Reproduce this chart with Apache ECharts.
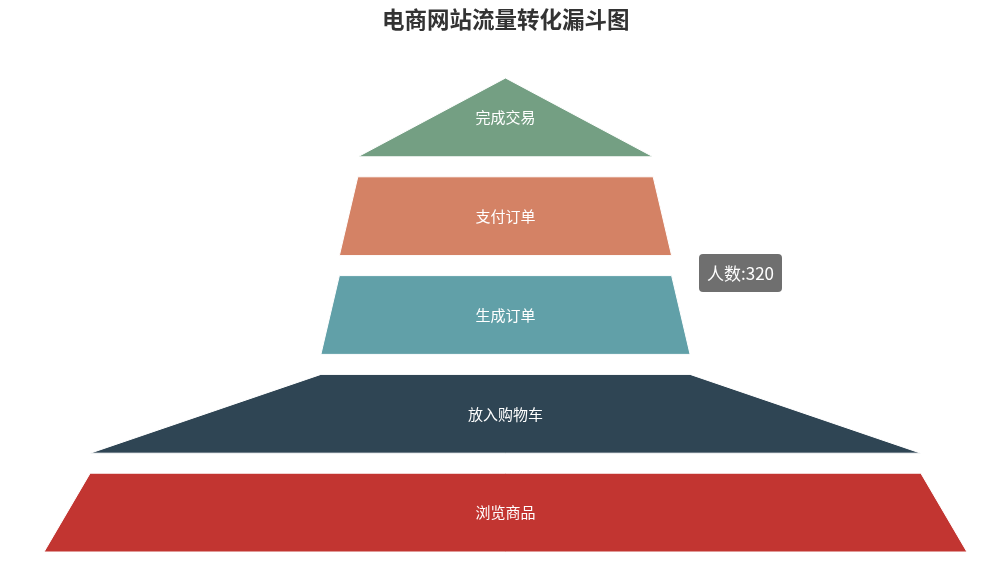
<!DOCTYPE html>
<html>
<head>
<meta charset="utf-8">
<script src="https://cdn.jsdelivr.net/npm/echarts@6/dist/echarts.min.js"></script>
<style>
html,body{margin:0;padding:0;background:#fff;}
#main{width:1003px;height:587px;}
</style>
</head>
<body>
<div id="main"></div>
<script>
const stages = ['浏览商品', '放入购物车', '生成订单', '支付订单', '完成交易'];
const visitors = [1000, 900, 400, 360, 320];
const palette = ['#c23531', '#2f4554', '#61a0a8', '#d48265', '#749f83'];
const titleText = '电商网站流量转化漏斗图';
const tipIndex = 4;

const chart = echarts.init(document.getElementById('main'), null, {renderer: 'canvas'});
const font = "'Microsoft YaHei', 'Noto Sans CJK SC', sans-serif";
chart.setOption({
  animation: false,
  color: palette,
  title: {
    text: titleText,
    left: 377,
    top: 3,
    textStyle: {fontSize: 22.5, fontWeight: 'bold', color: '#333', fontFamily: font}
  },
  tooltip: {
    trigger: 'item',
    formatter: '人数:{c}',
    alwaysShowContent: true,
    transitionDuration: 0,
    position: [699, 254],
    backgroundColor: 'rgba(50,50,50,0.7)',
    borderWidth: 0,
    padding: [6, 8],
    textStyle: {color: '#fff', fontSize: 17, fontFamily: font},
    extraCssText: 'border-radius:4px;box-shadow:none;'
  },
  series: [{
    type: 'funnel',
    sort: 'ascending',
    left: 44,
    top: 78,
    width: 923,
    height: 474,
    min: 0,
    max: 1000,
    minSize: '0%',
    maxSize: '100%',
    gap: 20,
    label: {show: true, position: 'inside', color: '#fff', fontSize: 15, fontFamily: font, offset: [0, -1]},
    labelLine: {show: false},
    itemStyle: {borderColor: '#fff', borderWidth: 1},
    emphasis: {disabled: true},
    data: stages.map((s, i) => ({name: s, value: visitors[i]}))
  }]
});
chart.dispatchAction({type: 'showTip', seriesIndex: 0, dataIndex: tipIndex});
</script>
</body>
</html>
